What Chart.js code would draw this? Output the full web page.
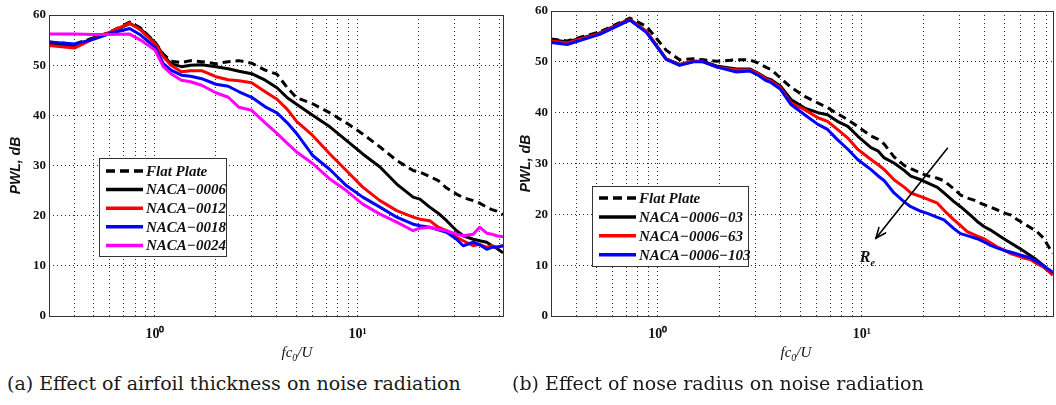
<!DOCTYPE html>
<html><head><meta charset="utf-8">
<script src="https://cdn.jsdelivr.net/npm/chart.js@4.4.1/dist/chart.umd.min.js"></script>
<style>
html,body{margin:0;padding:0;background:#fff;}
#wrap{position:relative;width:1056px;height:405px;overflow:hidden;background:#fff;}
#cA{position:absolute;left:0;top:0;}
#cB{position:absolute;left:512px;top:0;}
.cap{position:absolute;top:372px;font-family:"DejaVu Serif",serif;font-size:19px;color:#1a1a1a;white-space:nowrap;}
</style></head><body>
<div id="wrap">
<canvas id="cA" width="520" height="365"></canvas>
<canvas id="cB" width="544" height="365"></canvas>
<div class="cap" style="left:7px">(a) Effect of airfoil thickness on noise radiation</div>
<div class="cap" style="left:512px">(b) Effect of nose radius on noise radiation</div>
</div>
<script>
// ---------- data: panel (a) ----------
const freqA = [0.3,0.4,0.5,0.6,0.75,0.85,1.0,1.1,1.2,1.35,1.5,1.7,2.0,2.3,2.6,3.0,3.5,4.0,4.5,5,6,7.3,8.8,10.6,12.9,15.6,18.8,20.3,22.7,25,27.5,30.8,33.2,37.2,40,43.4,46,48.6,52.2];
const flatA = [54.6,54.2,55.5,56.6,58.6,57.4,54.6,52.2,50.8,50.5,50.9,50.7,50.3,50.7,50.9,50.4,49,48.2,45.5,43.5,42.3,40.5,38.5,36.3,33.7,31,29,28.7,27.8,27,25.5,24.3,23.6,23,22.5,21.7,21.2,20.9,20.2];
const naca0006A = [54.3,53.8,55.4,56.5,58.3,57.2,54.5,52,50.3,49.7,50,50.1,49.7,49.3,48.8,48.3,47,45.5,43.5,42.2,40,37.7,35,32.3,29.7,26.3,23.7,23.3,21.7,20.5,19,17,16,15.3,15,14.7,14,13.5,12.6];
const naca0012A = [53.9,53.4,55.3,56.6,58.4,57,54.3,51.7,50,48.7,48.9,48.9,47.7,47.1,46.9,46.5,44.7,43.2,41.2,38.8,36,32.3,29,25.7,23,21,19.7,19.3,19,17.7,17,15.7,15,14,14.3,13.7,14,13.7,14];
const naca0018A = [54.6,54.2,55.2,56.3,57.3,56,53.6,50.3,49,48,47.8,47.3,46.2,45.8,44.7,43.6,41.7,40.5,38.5,36.4,32,29.2,26,23.7,21.7,19.7,18.3,18,17.7,17.2,16.7,15.3,14,14.7,14.2,13.3,13.7,13.7,14];
const naca0024A = [56.2,56.2,56.1,56.1,56.2,55,53,49.7,48.3,47,46.7,46,44.5,43.6,41.6,41,38.5,36.4,34.4,32.7,30.4,27.3,25,22.3,20.3,18.7,17,17.5,17.7,17.3,17,16.3,16,16.3,17.7,16.5,16.3,16,15.8];
const labelsA = ['Flat Plate','NACA\u22120006','NACA\u22120012','NACA\u22120018','NACA\u22120024'];

// ---------- data: panel (b) ----------
const freqB = [0.3,0.36,0.52,0.73,0.88,1.1,1.28,1.5,1.67,1.94,2.43,2.82,3.1,3.4,3.6,4.0,4.5,5.25,6.1,6.8,7.6,8.55,9.55,11.1,12,12.9,14.4,16.2,17.4,19.5,21,23.5,25.3,28.3,30.5,32.9,35.5,36.8,39.7,42.8,46,49.7,53.5,57.7,62.2,67,72.2,77.9,80.8,86.4];
const flatB = [54.5,54.1,55.9,58.6,57,52.3,50.4,50.6,50.4,50.1,50.4,50.4,49.8,48.9,48.5,46.8,45,43.2,41.9,41,39.8,38.6,37.3,35.4,34.8,33.8,31.3,29.6,29,28.1,27.6,27.1,26.6,25,23.8,23.2,22.8,22.5,21.9,21.4,20.9,20.3,19.9,19,18.2,17.4,16.6,15.3,14.2,12.3];
const naca000603B = [54.4,53.9,55.7,58.4,56,50.6,49.5,50.1,50.1,49.2,48.6,48.6,47.8,46.8,46.5,45.2,42.6,40.9,40,39.6,38.3,37.3,35.4,33.1,32.5,31.1,30.1,28.6,27.5,26.8,26.2,25.3,24.2,22.5,21.5,20.4,19.2,18.6,17.6,16.9,16.1,15.2,14.4,13.6,12.8,11.9,11,9.9,9.3,8.3];
const naca000663B = [54.1,53.7,55.6,58.3,56,50.6,49.4,50.1,50,49,48.4,48.4,47.7,46.6,46.2,44.9,41.9,40.6,39,38.3,36.7,35,32.8,30.8,29.8,28.8,26.8,25.3,24.2,23.5,23,22.2,20.8,18.9,17.8,16.6,16,15.7,15.2,14.4,13.6,13,12.3,11.9,11.4,11.1,10.3,9.6,9.1,8];
const naca0006103B = [53.8,53.4,55.4,58.2,55.8,50.5,49.3,50,50,49,48,48.2,47.4,46.3,45.9,44.6,41.6,39.6,37.7,36.7,34.7,32.8,30.8,28.8,27.6,26.6,24.2,22.4,21.5,20.6,20.2,19.4,18.9,17.2,16.2,15.8,15.4,15.2,14.6,13.9,13.4,12.9,12.6,12.2,11.8,11.4,10.7,9.9,9.4,8.6];
const labelsB = ['Flat Plate','NACA\u22120006\u221203','NACA\u22120006\u221263','NACA\u22120006\u2212103'];

// ---------- axes ----------
const yTicks = [0,10,20,30,40,50,60];
const xGridA = [0.4,0.5,0.6,0.7,0.8,0.9,1,2,3,4,5,6,7,8,9,10,20,30,40,50];
const xGridB = [0.4,0.5,0.6,0.7,0.8,0.9,1,2,3,4,5,6,7,8,9,10,20,30,40,50,60,70,80];
const xMajorTicks = [1,10];
const xMajorLabels = ['10\u2070','10\u00B9'];
const yTitle = 'PWL, dB';

// annotation (panel b): arrow in data coords and label
const reArrowFrom = [26.3, 33];
const reArrowTo = [11.74, 15.3];
const reLabelAt = [9.78, 10.6];

const colors = ['#000000','#000000','#ff0000','#0000ff','#ff00ff'];
const SERIF = '"Liberation Serif","Times New Roman",serif';
const SANS = '"Liberation Sans",Arial,sans-serif';

function makeDatasets(freq, seriesVals, labels, cols) {
  return seriesVals.map((vals, k) => ({
    label: labels[k],
    data: freq.map((f, i) => ({x: f, y: vals[i]})),
    borderColor: cols[k], backgroundColor: cols[k],
    borderWidth: 3, borderDash: k === 0 ? [8,5] : [],
    borderCapStyle: 'butt', borderJoinStyle: 'round',
    pointRadius: 0, tension: 0, fill: false,
    order: seriesVals.length - k
  }));
}

function decor(cfg) {
  return { id: 'decor', afterDraw(chart) {
    const {ctx, chartArea: a} = chart;
    ctx.save();
    ctx.setLineDash([]);
    ctx.strokeStyle = '#333'; ctx.lineWidth = 1;
    ctx.strokeRect(Math.round(a.left) + 0.5, Math.round(a.top) + 0.5, Math.round(a.right - a.left), Math.round(a.bottom - a.top));
    // x title  fc_0/U
    ctx.fillStyle = '#111'; ctx.textBaseline = 'alphabetic'; ctx.textAlign = 'left';
    const big = 'italic 15px ' + SERIF, small = 'italic 10px ' + SERIF;
    ctx.font = big; const w1 = ctx.measureText('fc').width, w3 = ctx.measureText('/U').width;
    ctx.font = small; const w2 = ctx.measureText('0').width;
    const tw = w1 + w2 + w3;
    let tx = a.left + cfg.xTitleFrac * (a.right - a.left) - tw / 2;
    const ty = a.bottom + 41;
    ctx.font = big; ctx.fillText('fc', tx, ty); tx += w1;
    ctx.font = small; ctx.fillText('0', tx, ty + 4); tx += w2;
    ctx.font = big; ctx.fillText('/U', tx, ty);
    // legend
    const L = cfg.legend;
    const bx = Math.round(a.left + L.dx), by = Math.round(a.top + L.dy);
    ctx.fillStyle = '#fff'; ctx.fillRect(bx, by, L.w, L.h);
    ctx.strokeStyle = '#333'; ctx.lineWidth = 1; ctx.strokeRect(bx + 0.5, by + 0.5, L.w, L.h);
    chart.data.datasets.forEach((ds, i) => {
      const y = by + L.row0 + i * L.step;
      ctx.beginPath();
      ctx.setLineDash(ds.borderDash.length ? [9,5] : []);
      ctx.lineWidth = 3.5; ctx.strokeStyle = ds.borderColor; ctx.lineCap = 'butt';
      ctx.moveTo(bx + L.s0, y); ctx.lineTo(bx + L.s1, y); ctx.stroke();
      ctx.setLineDash([]);
      ctx.fillStyle = '#111'; ctx.font = 'bold italic 15px ' + SERIF;
      ctx.textBaseline = 'middle'; ctx.textAlign = 'left';
      ctx.fillText(ds.label, bx + L.tx, y + 1);
    });
    if (cfg.arrow) {
      const xs = chart.scales.x, ys = chart.scales.y;
      const x1 = xs.getPixelForValue(reArrowFrom[0]), y1 = ys.getPixelForValue(reArrowFrom[1]);
      const x2 = xs.getPixelForValue(reArrowTo[0]), y2 = ys.getPixelForValue(reArrowTo[1]);
      ctx.strokeStyle = '#000'; ctx.lineWidth = 1.6; ctx.lineCap = 'round';
      ctx.beginPath(); ctx.moveTo(x1, y1); ctx.lineTo(x2, y2); ctx.stroke();
      const ang = Math.atan2(y2 - y1, x2 - x1), hl = 11;
      ctx.beginPath();
      ctx.moveTo(x2 - hl * Math.cos(ang - 0.4), y2 - hl * Math.sin(ang - 0.4));
      ctx.lineTo(x2, y2);
      ctx.lineTo(x2 - hl * Math.cos(ang + 0.4), y2 - hl * Math.sin(ang + 0.4));
      ctx.stroke();
      const rx = xs.getPixelForValue(reLabelAt[0]), ry = ys.getPixelForValue(reLabelAt[1]);
      ctx.fillStyle = '#111'; ctx.textBaseline = 'alphabetic'; ctx.textAlign = 'left';
      ctx.font = 'bold italic 16px ' + SERIF; ctx.fillText('R', rx, ry);
      const rw = ctx.measureText('R').width;
      ctx.font = 'bold italic 10px ' + SERIF; ctx.fillText('e', rx + rw, ry + 4);
    }
    ctx.restore();
  }};
}

function makeOptions(p) {
  return {
    responsive: false, animation: false, devicePixelRatio: 1,
    layout: {padding: {left: 0, top: p.top, right: p.right, bottom: 0}},
    plugins: {legend: {display: false}, tooltip: {enabled: false}},
    scales: {
      x: {
        type: 'logarithmic', min: 0.3, max: p.xmax,
        afterBuildTicks: (s) => { s.ticks = p.grid.map(v => ({value: v})); },
        afterFit: (s) => { s.height = 49; },
        ticks: {
          autoSkip: false, maxRotation: 0, minRotation: 0, padding: 10, color: '#111',
          font: {family: SERIF, size: 14, weight: 'bold'},
          callback: (v) => { const i = xMajorTicks.indexOf(v); return i >= 0 ? xMajorLabels[i] : ''; }
        },
        grid: {color: 'rgba(0,0,0,0.85)', lineWidth: 1, drawTicks: false},
        border: {display: false, dash: [1,3]}
      },
      y: {
        min: 0, max: 60,
        afterBuildTicks: (s) => { s.ticks = yTicks.map(v => ({value: v})); },
        afterFit: (s) => { s.width = p.yw; },
        ticks: {padding: 3, color: '#111', font: {family: SERIF, size: 13, weight: 'bold'}},
        grid: {color: 'rgba(0,0,0,0.85)', lineWidth: 1, drawTicks: false},
        border: {display: false, dash: [1,3]},
        title: {display: true, text: yTitle, color: '#111',
                font: {family: SANS, size: 14, weight: 'bold', style: 'italic'},
                padding: {top: p.titlePad, bottom: 0}}
      }
    }
  };
}

new Chart(document.getElementById('cA'), {
  type: 'line',
  data: {datasets: makeDatasets(freqA, [flatA, naca0006A, naca0012A, naca0018A, naca0024A], labelsA, colors)},
  options: makeOptions({top: 15, right: 17, xmax: 52.2, grid: xGridA, yw: 49, titlePad: 8}),
  plugins: [decor({xTitleFrac: 0.546, legend: {dx: 50, dy: 143, w: 127, h: 98, row0: 13, step: 18.6, s0: 7, s1: 44, tx: 47}})]
});

new Chart(document.getElementById('cB'), {
  type: 'line',
  data: {datasets: makeDatasets(freqB, [flatB, naca000603B, naca000663B, naca0006103B], labelsB, ['#000000','#000000','#ff0000','#0000ff'])},
  options: makeOptions({top: 11, right: 0, xmax: 86.4, grid: xGridB, yw: 39, titlePad: 6}),
  plugins: [decor({xTitleFrac: 0.488, arrow: true, legend: {dx: 41, dy: 175, w: 156, h: 80, row0: 12, step: 18.9, s0: 7, s1: 44, tx: 47}})]
});
</script>
</body></html>
